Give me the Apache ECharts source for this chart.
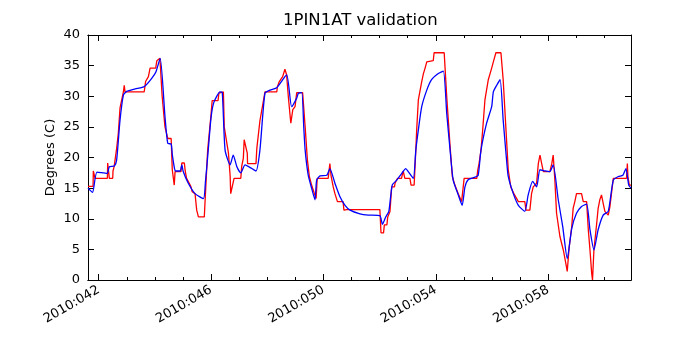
<!DOCTYPE html>
<html>
<head>
<meta charset="utf-8">
<script src="https://cdn.jsdelivr.net/npm/echarts@6/dist/echarts.min.js"></script>
<style>
  html, body { margin: 0; padding: 0; background: #fff; }
  #chart { width: 700px; height: 350px; }
</style>
</head>
<body>
<div id="chart"></div>
<script>
// x values are day-of-year 2010 (fractional)
var dayMin = 41.62;
var dayMax = 60.95;
var labelDays = [42, 46, 50, 54, 58];
var minorDays = [42, 43, 44, 45, 46, 47, 48, 49, 50, 51, 52, 53, 54, 55, 56, 57, 58, 59, 60];
var yTicks = [0, 5, 10, 15, 20, 25, 30, 35, 40];

// telemetry (red, stepped)
var telem = [
  [41.62,15.3],[41.80,15.3],[41.81,17.8],[41.86,17.8],[41.87,16.6],[42.31,16.6],[42.32,19.1],[42.37,19.1],
  [42.38,16.6],[42.50,16.6],[42.51,17.8],[42.55,18.5],[42.64,21.5],[42.70,24.0],[42.76,28.1],[42.88,30.7],
  [42.91,31.8],[42.94,30.7],[43.62,30.7],[43.67,32.4],[43.77,33.2],[43.83,34.6],[44.03,34.6],[44.07,35.8],
  [44.18,36.2],[44.26,30.0],[44.36,25.0],[44.46,23.1],[44.58,23.1],[44.62,18.0],[44.69,15.5],[44.72,17.7],
  [44.93,17.7],[44.96,19.1],[45.05,19.1],[45.08,17.8],[45.13,16.6],[45.28,15.3],[45.33,14.4],[45.43,14.1],
  [45.49,11.4],[45.55,10.3],[45.76,10.3],[45.79,13.1],[45.88,21.2],[46.00,27.0],[46.04,29.3],[46.25,29.3],
  [46.28,30.5],[46.44,30.7],[46.47,25.0],[46.62,20.7],[46.68,17.0],[46.70,14.1],[46.77,14.1],[46.82,16.6],
  [47.06,16.6],[47.09,18.5],[47.15,19.9],[47.18,22.9],[47.22,22.9],[47.25,21.5],[47.29,20.7],[47.30,19.0],
  [47.60,19.0],[47.63,21.5],[47.74,26.0],[47.92,30.7],[48.34,30.7],[48.36,31.5],[48.43,32.4],[48.55,33.2],
  [48.63,34.4],[48.69,33.5],[48.75,30.0],[48.84,25.6],[48.91,27.8],[48.99,28.3],[49.05,30.6],[49.26,30.6],
  [49.35,25.0],[49.43,19.6],[49.50,16.9],[49.58,15.5],[49.68,14.1],[49.74,13.3],[49.78,16.6],[50.17,16.6],
  [50.23,19.0],[50.27,17.1],[50.35,15.2],[50.41,14.1],[50.50,12.8],[50.70,12.8],[50.73,11.4],[50.83,11.5],
  [52.01,11.5],[52.05,7.7],[52.14,7.7],[52.17,9.0],[52.26,9.0],[52.29,10.3],[52.37,11.2],[52.43,15.2],
  [52.53,15.2],[52.55,15.8],[52.64,16.6],[52.78,16.6],[52.84,17.8],[52.90,16.6],[53.08,16.6],[53.12,15.5],
  [53.23,15.5],[53.29,21.2],[53.32,24.5],[53.38,29.4],[53.50,32.4],[53.56,33.7],[53.62,34.6],[53.68,35.6],
  [53.73,35.8],[53.91,35.8],[53.94,37.1],[54.30,37.1],[54.39,29.9],[54.51,21.8],[54.59,16.9],[54.68,15.5],
  [54.80,14.1],[54.92,12.8],[55.01,16.6],[55.46,16.6],[55.49,17.8],[55.54,19.0],[55.61,21.2],[55.67,24.5],
  [55.75,29.4],[55.87,32.7],[55.99,34.6],[56.05,35.6],[56.11,35.8],[56.14,37.1],[56.32,37.1],[56.40,32.7],
  [56.50,24.5],[56.58,18.0],[56.67,15.2],[56.78,14.1],[56.94,12.8],[57.17,12.8],[57.21,11.4],[57.35,11.4],
  [57.41,14.1],[57.47,15.2],[57.59,15.8],[57.65,19.0],[57.71,20.4],[57.77,19.0],[57.83,17.7],[58.06,17.7],
  [58.13,19.0],[58.18,20.4],[58.24,16.3],[58.30,10.9],[58.42,7.1],[58.54,4.9],[58.63,2.7],[58.68,1.4],
  [58.75,5.4],[58.84,8.7],[58.89,11.7],[58.95,12.8],[59.01,14.1],[59.19,14.1],[59.25,12.8],[59.37,12.8],
  [59.43,8.2],[59.49,4.9],[59.55,1.1],[59.58,0.0],[59.63,4.9],[59.73,9.3],[59.78,11.7],[59.84,13.1],
  [59.90,13.9],[59.96,12.5],[60.02,11.2],[60.14,10.6],[60.20,12.0],[60.32,16.6],[60.79,16.6],[60.82,19.0],
  [60.84,16.9],[60.89,15.5],[60.95,15.5]
];

// model (blue, smooth)
var model = [
  [41.62,15.0],[41.78,14.3],[41.94,17.6],[42.30,17.4],[42.38,18.5],[42.56,18.6],[42.64,19.6],[42.76,26.1],
  [42.88,30.2],[43.00,30.8],[43.30,31.2],[43.63,31.6],[43.90,33.0],[44.04,34.0],[44.19,36.2],[44.36,26.7],
  [44.46,22.3],[44.58,22.2],[44.62,20.5],[44.70,18.2],[44.74,17.8],[44.90,17.8],[44.96,18.8],[45.01,17.7],
  [45.19,15.8],[45.43,14.1],[45.73,13.3],[45.80,16.0],[45.90,21.2],[46.00,26.5],[46.10,29.0],[46.32,30.7],
  [46.40,30.6],[46.50,21.2],[46.68,18.8],[46.79,20.4],[46.92,18.5],[47.06,17.5],[47.21,18.8],[47.45,18.2],
  [47.60,17.8],[47.74,21.2],[47.92,30.5],[48.10,31.0],[48.34,31.4],[48.69,33.5],[48.87,28.3],[49.05,29.7],
  [49.11,30.5],[49.23,30.6],[49.30,25.0],[49.35,21.2],[49.46,17.1],[49.58,15.0],[49.70,13.1],[49.76,16.3],
  [49.88,17.0],[50.12,17.1],[50.23,18.2],[50.41,15.8],[50.59,13.6],[50.77,12.2],[50.95,11.4],[51.30,10.8],
  [51.60,10.6],[52.01,10.5],[52.10,9.1],[52.22,10.3],[52.33,11.2],[52.45,15.5],[52.61,16.3],[52.79,17.4],
  [52.93,18.2],[53.02,17.7],[53.20,16.6],[53.29,21.2],[53.38,24.5],[53.50,28.3],[53.68,31.0],[53.85,32.7],
  [54.09,33.7],[54.27,34.1],[54.39,27.2],[54.51,21.2],[54.62,16.3],[54.80,13.9],[54.94,12.2],[55.04,15.2],
  [55.16,16.4],[55.40,16.8],[55.51,17.1],[55.61,21.2],[55.81,25.6],[55.99,28.3],[56.05,30.7],[56.17,31.8],
  [56.29,32.7],[56.40,26.1],[56.52,19.6],[56.58,16.9],[56.76,14.1],[56.94,12.2],[57.17,11.2],[57.29,13.9],
  [57.45,16.1],[57.59,15.2],[57.71,18.0],[57.89,17.8],[58.06,17.7],[58.18,18.8],[58.36,13.1],[58.52,8.7],
  [58.68,3.5],[58.84,8.4],[59.01,10.9],[59.19,12.0],[59.37,12.4],[59.49,8.2],[59.63,4.9],[59.78,8.2],
  [59.96,10.6],[60.14,11.2],[60.32,16.3],[60.50,16.9],[60.66,17.1],[60.77,18.2],[60.87,15.5],[60.95,15.0]
];

var FONT = 'DejaVu Sans';

function dayLabel(v) {
  var d = Math.round(v);
  return '2010:' + ('00' + d).slice(-3);
}

// one x axis (labels or ticks only) on bottom or top
function xAx(pos, ticks, len, withLabels) {
  return {
    type: 'value',
    position: pos,
    min: dayMin,
    max: dayMax,
    splitLine: { show: false },
    axisLine: { show: true, onZero: false, lineStyle: { color: '#000', width: 1 } },
    axisTick: { show: true, inside: true, length: len, customValues: ticks, lineStyle: { color: '#000' } },
    axisLabel: withLabels ? {
      show: true, customValues: labelDays, rotate: 30, margin: 9,
      fontFamily: FONT, fontSize: 13, color: '#000', formatter: dayLabel
    } : { show: false }
  };
}

function yAx(pos, withLabels) {
  var ax = {
    type: 'value',
    position: pos,
    min: 0,
    max: 40,
    interval: 5,
    splitLine: { show: false },
    axisLine: { show: true, lineStyle: { color: '#000', width: 1 } },
    axisTick: { show: true, inside: true, length: 6, lineStyle: { color: '#000' } },
    axisLabel: withLabels ? { show: true, margin: 8, fontFamily: FONT, fontSize: 13, color: '#000' } : { show: false }
  };
  if (withLabels) {
    ax.name = 'Degrees (C)';
    ax.nameLocation = 'middle';
    ax.nameRotate = 90;
    ax.nameGap = 31;
    ax.nameMoveOverlap = false;
    ax.nameTextStyle = { fontFamily: FONT, fontSize: 13, color: '#000' };
  }
  return ax;
}

var chart = echarts.init(document.getElementById('chart'), null, { renderer: 'canvas' });
chart.setOption({
  animation: false,
  title: {
    text: '1PIN1AT validation',
    left: 283, top: 12, padding: 0,
    textStyle: { fontFamily: FONT, fontSize: 16.5, fontWeight: 'normal', color: '#000' }
  },
  grid: { left: 88, right: 69, top: 35, bottom: 70 },
  xAxis: [
    xAx('bottom', labelDays, 6, true),
    xAx('bottom', minorDays, 3, false),
    xAx('top', labelDays, 6, false),
    xAx('top', minorDays, 3, false)
  ],
  yAxis: [yAx('left', true), yAx('right', false)],
  series: [
    {
      name: 'telem', type: 'line', data: telem, showSymbol: false, symbol: 'none',
      lineStyle: { color: '#ff0000', width: 1.3 }, z: 2
    },
    {
      name: 'model', type: 'line', data: model, showSymbol: false, symbol: 'none', smooth: 0.2,
      lineStyle: { color: '#0000ff', width: 1.3 }, z: 3
    }
  ]
});
</script>
</body>
</html>
